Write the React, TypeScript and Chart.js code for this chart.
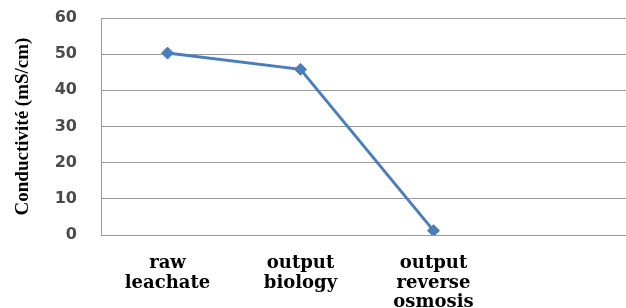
import React, { useEffect, useRef } from "react";
import { Chart, registerables } from "chart.js";

Chart.register(...registerables);

const categories: string[][] = [
  ["raw", "leachate"],
  ["output", "biology"],
  ["output", "reverse", "osmosis"],
];
const conductivity: number[] = [50.3, 45.8, 1.2];
const yTickValues: number[] = [0, 10, 20, 30, 40, 50, 60];
const yTitle = "Conductivité (mS/cm)";

export default function App() {
  const ref = useRef<HTMLCanvasElement | null>(null);

  useEffect(() => {
    document.body.style.margin = "0";
    const canvas = ref.current;
    if (!canvas) return;
    const chart = new Chart(canvas, {
      type: "line",
      data: {
        datasets: [
          {
            data: conductivity.map((v, i) => ({ x: i + 1, y: v })),
            borderColor: "#4a7ebb",
            backgroundColor: "#4a7ebb",
            borderWidth: 3,
            pointStyle: "rectRot",
            pointRadius: 6,
            pointBorderWidth: 1,
            tension: 0,
          },
        ],
      },
      options: {
        animation: false,
        responsive: false,
        maintainAspectRatio: false,
        layout: { autoPadding: false, padding: { left: 0, right: 0, top: 18, bottom: 0 } },
        plugins: { legend: { display: false }, tooltip: { enabled: false } },
        scales: {
          x: {
            type: "linear",
            min: 0.5,
            max: 0.5 + 525 / 133,
            afterBuildTicks: (scale: any) => {
              scale.ticks = categories.map((_, i) => ({ value: i + 1 }));
            },
            afterFit: (scale: any) => {
              scale.height = 308 - 235;
              scale.paddingLeft = 0;
              scale.paddingRight = 0;
              scale.paddingTop = 0;
              scale.paddingBottom = 0;
            },
            grid: { display: false, drawTicks: false },
            border: { display: true, color: "#9a9a9a", width: 1 },
            ticks: {
              autoSkip: false,
              maxRotation: 0,
              padding: 19,
              color: "#000000",
              font: { family: "DejaVu Serif", size: 18, weight: "bold", lineHeight: 1.08 },
              callback: (v: any) => categories[Math.round(Number(v)) - 1] ?? "",
            },
          },
          y: {
            min: 0,
            max: 60,
            afterBuildTicks: (scale: any) => {
              scale.ticks = yTickValues.map((v) => ({ value: v }));
            },
            afterFit: (scale: any) => {
              scale.width = 101;
              scale.paddingTop = 0;
              scale.paddingBottom = 0;
              scale.paddingLeft = 0;
              scale.paddingRight = 0;
            },
            grid: { color: "#9a9a9a", lineWidth: 1, drawTicks: false },
            border: { display: true, color: "#9a9a9a", width: 1 },
            ticks: {
              padding: 24,
              color: "#4a4a4a",
              font: { family: "DejaVu Sans", size: 16, weight: "bold" },
            },
            title: {
              display: true,
              text: yTitle,
              color: "#000000",
              padding: { top: 12, bottom: 0 },
              font: { family: "Liberation Serif", size: 19, weight: "bold" },
            },
          },
        },
      },
    });
    return () => chart.destroy();
  }, []);

  return (
    <div style={{ width: 626, height: 308, background: "#fff", overflow: "hidden" }}>
      <canvas ref={ref} width={626} height={308} style={{ display: "block" }} />
    </div>
  );
}
